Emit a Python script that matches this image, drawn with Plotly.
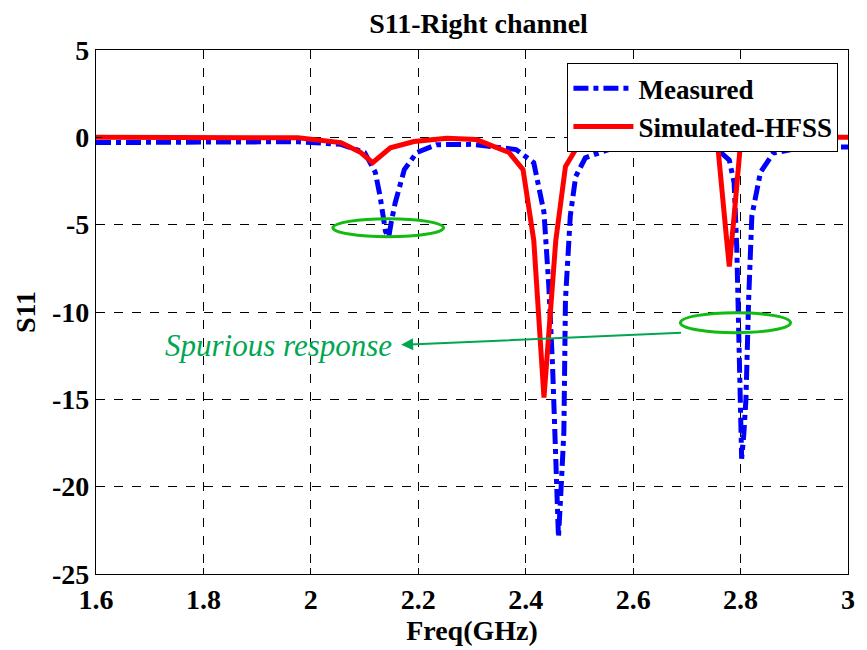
import plotly.graph_objects as go

# Measured S11 (blue dash-dot)
meas_f = [1.6, 1.7, 1.8, 1.9, 1.976, 2.056, 2.1, 2.12, 2.129, 2.139, 2.145, 2.15, 2.157,
          2.174, 2.197, 2.234, 2.3, 2.382, 2.415, 2.434, 2.443, 2.45, 2.456, 2.461,
          2.466, 2.471, 2.474, 2.483, 2.493, 2.511, 2.554, 2.585, 2.65, 2.751, 2.779,
          2.788, 2.793, 2.797, 2.802, 2.806, 2.81, 2.815, 2.821, 2.837, 2.861, 2.922, 3.0]
meas_s11 = [-0.3, -0.3, -0.25, -0.25, -0.25, -0.4, -0.87, -2.0, -3.4, -5.4, -5.7, -4.8, -3.75,
            -1.85, -0.87, -0.42, -0.4, -0.7, -1.45, -4.3, -8.5, -13.1, -18.9, -22.9,
            -20.0, -16.9, -9.3, -4.5, -2.25, -1.17, -0.7, -0.53, -0.5, -0.53, -1.3,
            -2.6, -6.4, -11.2, -18.4, -17.0, -15.0, -9.3, -4.5, -2.0, -0.9, -0.53, -0.55]

# Simulated HFSS S11 (red solid)
sim_f = [1.6, 1.7, 1.8, 1.9, 1.976, 2.056, 2.093, 2.115, 2.148, 2.192, 2.253, 2.308,
         2.369, 2.395, 2.415, 2.434, 2.456, 2.474, 2.493, 2.524, 2.6, 2.7, 2.757,
         2.773, 2.779, 2.788, 2.8, 2.85, 3.0]
sim_s11 = [0.0, 0.0, 0.0, 0.0, -0.03, -0.3, -0.87, -1.45, -0.6, -0.24, -0.05, -0.13,
           -0.87, -1.85, -5.9, -14.9, -5.9, -1.67, -0.7, -0.3, -0.05, 0.0, -0.3,
           -5.5, -7.4, -4.5, -0.3, 0.0, 0.0]

x_ticks = [1.6, 1.8, 2.0, 2.2, 2.4, 2.6, 2.8, 3.0]
x_tick_labels = ["1.6", "1.8", "2", "2.2", "2.4", "2.6", "2.8", "3"]
y_ticks = [5, 0, -5, -10, -15, -20, -25]
y_tick_labels = ["5", "0", "-5", "-10", "-15", "-20", "-25"]

FONT = "Liberation Serif"
GREEN = "#00a651"

fig = go.Figure()
fig.add_trace(go.Scatter(x=meas_f, y=meas_s11, mode="lines", name="Measured",
                         line=dict(color="#0000ff", width=5, dash="dashdot")))
fig.add_trace(go.Scatter(x=sim_f, y=sim_s11, mode="lines", name="Simulated-HFSS",
                         line=dict(color="#ff0000", width=5)))

axis_common = dict(showline=True, linecolor="black", linewidth=1.2, mirror=True,
                   ticks="inside", ticklen=6, tickcolor="black",
                   showgrid=True, gridcolor="black", griddash="dash", gridwidth=0.8,
                   zeroline=False,
                   tickfont=dict(family=FONT, size=28, color="black", weight="bold"))

fig.update_xaxes(range=[1.6, 3.0], tickvals=x_ticks, ticktext=x_tick_labels,
                 title=dict(text="<b>Freq(GHz)</b>", font=dict(family=FONT, size=28, color="black"),
                            standoff=2), **axis_common)
fig.update_yaxes(range=[-25, 5], tickvals=y_ticks, ticktext=y_tick_labels,
                 title=dict(text="<b>S11</b>", font=dict(family=FONT, size=28, color="black"),
                            standoff=8), **axis_common)

# Ellipses marking spurious responses
fig.add_shape(type="circle", xref="x", yref="y", x0=2.041, x1=2.247, y0=-5.69, y1=-4.66,
              line=dict(color="#11bb11", width=3))
fig.add_shape(type="circle", xref="x", yref="y", x0=2.688, x1=2.893, y0=-11.19, y1=-10.04,
              line=dict(color="#11bb11", width=3))

# Arrow
fig.add_annotation(x=2.168, y=-11.88, ax=2.692, ay=-11.19, xref="x", yref="y",
                   axref="x", ayref="y", text="", showarrow=True, arrowhead=2,
                   arrowsize=1.2, arrowwidth=2, arrowcolor=GREEN)
fig.add_annotation(x=2.154, y=-11.9, xref="x", yref="y", xanchor="right", yanchor="middle",
                   text="<i>Spurious response</i>", showarrow=False,
                   font=dict(family=FONT, size=31, color=GREEN))

fig.update_layout(
    width=867, height=650,
    margin=dict(l=96, r=12, t=50, b=76),
    paper_bgcolor="white", plot_bgcolor="white",
    title=dict(text="<b>S11-Right channel</b>", x=0.552, xanchor="center", y=0.965, yanchor="middle",
               font=dict(family=FONT, size=28, color="black")),
    legend=dict(x=0.987, xanchor="right", y=0.975, yanchor="top",
                bgcolor="white", bordercolor="black", borderwidth=1.2,
                font=dict(family=FONT, size=27, color="black", weight="bold"),
                itemwidth=60, tracegroupgap=0),
    showlegend=True,
)

fig.write_html("out.html")
